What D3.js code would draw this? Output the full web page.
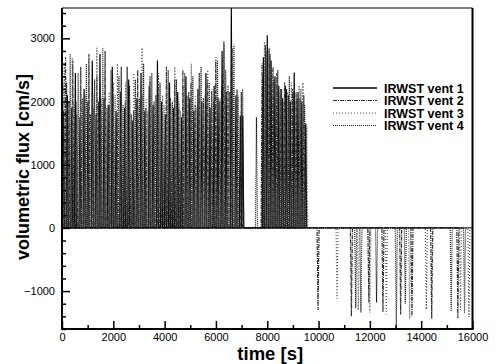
<!DOCTYPE html>
<html><head><meta charset="utf-8">
<script src="https://cdn.jsdelivr.net/npm/d3@7"></script>
<style>
html,body{margin:0;padding:0;background:#fff;}
svg{display:block;}
</style></head>
<body><svg id="chart" width="496" height="364"></svg>
<script>
// ---- data ----
const seriesNames = ["IRWST vent 1", "IRWST vent 2", "IRWST vent 3", "IRWST vent 4"];
const xTickValues = [0, 2000, 4000, 6000, 8000, 10000, 12000, 14000, 16000];
const yTickValues = [-1000, 0, 1000, 2000, 3000];
const xDomain = [0, 16000];
const yDomain = [-1600, 3480];

// spikes: [time s, peak flux cm/s]
const vent1 = [[60,1850],[210,2100],[380,1900],[520,2450],[700,1750],[860,2200],[1010,2000],[1180,2650],[1330,1800],[1480,2750],[1640,2050],[1800,1950],[1960,2550],[2110,1850],[2290,2150],[2440,1900],[2600,2350],[2760,1700],[2920,2050],[3080,2450],[3230,1850],[3400,2250],[3550,1950],[3720,2650],[3880,2000],[4030,1800],[4190,2300],[4350,1900],[4510,2150],[4660,1750],[4830,2400],[4980,2050],[5140,1850],[5300,2200],[5450,2000],[5610,2450],[5770,1900],[5930,2250],[6080,2050],[6240,2800],[6400,2150],[6600,3480],[6780,2100],[6950,1780],[7045,1780],
  [7850,2700],[8000,3050],[8150,2650],[8300,2400],[8450,2250],[8600,2050],[8750,2200],[8900,2000],[9050,2460],[9200,2150],[9350,2000],[9500,1650]];
const vent2 = [[15,2700],[140,2700],[270,2000],[420,2650],[570,1800],[730,2550],[890,2100],[1050,2750],[1210,1900],[1360,2400],[1520,2050],[1680,2800],[1840,1950],[1990,2300],[2150,1800],[2310,2550],[2470,2000],[2630,2250],[2790,1850],[2950,2500],[3110,2100],[3270,1900],[3430,2400],[3590,2000],[3750,2200],[3910,1850],[4070,2550],[4230,2050],[4390,2350],[4550,1900],[4710,2500],[4870,2100],[5030,2300],[5190,1950],[5350,2450],[5510,2050],[5670,2350],[5830,2150],[5990,2650],[6150,2000],[6310,2950],[6470,2250],[6630,2850],[6820,2200],[6990,2150],
  [7800,2600],[7925,2900],[8075,2850],[8225,2550],[8375,2450],[8525,2200],[8675,2300],[8825,2100],[8975,2200],[9125,2150],[9275,2050],[9425,2100],
  [9980,-1300],[11280,-1400],[11960,-1180],[12510,-1330],[13200,-1370],[13640,-1400],[14410,-1440],[15430,-1430]];
const vent3 = [[90,2600],[240,1900],[400,2700],[560,2000],[720,2500],[880,1850],[1040,2650],[1200,2100],[1360,2850],[1520,1800],[1680,2450],[1840,2150],[2000,2050],[2160,2600],[2320,1850],[2480,2300],[2640,2000],[2800,2450],[2960,1900],[3120,2850],[3280,2050],[3440,2350],[3600,1800],[3760,2450],[3920,2100],[4080,2300],[4240,1900],[4400,2550],[4560,2000],[4720,2250],[4880,1850],[5040,2600],[5200,2100],[5360,2300],[5520,1950],[5680,2500],[5840,2200],[6000,2700],[6160,2050],[6320,2900],[6480,2200],[6640,2400],[6820,1950],
  [7890,2950],[8040,2800],[8190,2500],[8340,2300],[8490,2150],[8640,2000],[8790,2150],[8940,2300],[9090,2000],[9240,2250],[9390,2300],[9540,1620],
  [10720,-1120],[11550,-1300],[12000,-1340],[12640,-1370],[13550,-1440],[14200,-1290],[15530,-1300],[15860,-1410]];
const vent4 = [[30,2300],[180,2300],[320,2750],[480,1950],[630,2450],[790,2050],[950,2600],[1110,1800],[1270,2350],[1430,2000],[1590,2850],[1750,1900],[1910,2500],[2070,2100],[2220,2400],[2380,1950],[2540,2550],[2700,1800],[2860,2350],[3020,2050],[3180,2600],[3340,1850],[3500,2450],[3660,2100],[3820,2300],[3980,1950],[4140,2500],[4300,2000],[4460,2350],[4620,1850],[4780,2450],[4940,2150],[5100,2400],[5260,1900],[5420,2550],[5580,2100],[5740,2300],[5900,2000],[6060,2650],[6220,2250],[6380,2500],[6540,2150],[6700,2900],[6860,2100],[7040,2200],
  [7580,1750],[7820,2400],[7960,2800],[8110,2750],[8260,2350],[8410,2500],[8560,2200],[8710,2250],[8860,2400],[9010,2150],[9160,2050],[9310,2200],[9460,1950],
  [11450,-1270],[11650,-1340],[12260,-1180],[13030,-1600],[13380,-1200],[15170,-1320],[15690,-1350]];

const allSeries = [vent1, vent2, vent3, vent4];
const seriesStyles = [
  {stroke:"#000", dash:null},
  {stroke:"#333", dash:"4,1,1,1"},
  {stroke:"#555", dash:"1,2"},
  {stroke:"#222", dash:"1,1"}
];

// ---- layout ----
const svg = d3.select("#chart");
const L = 62, R = 472.5, T = 8, B = 329;
const x = d3.scaleLinear().domain(xDomain).range([L, R]);
const y = d3.scaleLinear().domain(yDomain).range([B, T]);

svg.append("clipPath").attr("id","clip").append("rect")
  .attr("x", L).attr("y", T).attr("width", R - L).attr("height", B - T);

const plot = svg.append("g").attr("clip-path","url(#clip)");
const halfWidth = 40; // seconds, half width of each drawn spike
const line = d3.line().x(d => x(d[0])).y(d => y(d[1]));

allSeries.forEach((s, i) => {
  const pts = [];
  s.forEach(([t, v]) => {
    pts.push([t - halfWidth, 0], [t, v], [t + halfWidth, 0]);
  });
  plot.append("path")
    .attr("d", line(pts))
    .attr("fill","none")
    .attr("stroke", seriesStyles[i].stroke)
    .attr("stroke-width", 1.2)
    .attr("stroke-dasharray", seriesStyles[i].dash);
});

// zero line
svg.append("line").attr("x1", L).attr("x2", R).attr("y1", y(0)).attr("y2", y(0))
  .attr("stroke","#000").attr("stroke-width",1);

// axes
const font = "'Liberation Sans', Arial, Helvetica, sans-serif";
const gx = svg.append("g").attr("transform", `translate(0,${B})`)
  .call(d3.axisBottom(x).tickValues(xTickValues).tickSize(-8).tickPadding(4).tickFormat(d3.format("d")));
const gxm = svg.append("g").attr("transform", `translate(0,${B})`)
  .call(d3.axisBottom(x).tickValues(d3.range(1000, 16000, 2000)).tickSize(-4).tickFormat(""));
const gy = svg.append("g").attr("transform", `translate(${L},0)`)
  .call(d3.axisLeft(y).tickValues(yTickValues).tickSize(-8).tickPadding(7).tickFormat(d3.format("d")));
const gym = svg.append("g").attr("transform", `translate(${L},0)`)
  .call(d3.axisLeft(y).tickValues(d3.range(-1600, 3480, 200).filter(v => v % 1000 !== 0)).tickSize(-4).tickFormat(""));

[gx, gxm, gy, gym].forEach(g => {
  g.select(".domain").remove();
  g.selectAll(".tick line").attr("stroke","#000").attr("stroke-width",1.5);
  g.selectAll("text").attr("font-family", font).attr("font-size", 11).attr("fill","#000");
});

// frame
svg.append("line").attr("x1",L).attr("x2",L).attr("y1",T).attr("y2",B+1).attr("stroke","#000").attr("stroke-width",2);
svg.append("line").attr("x1",L-1).attr("x2",R+1).attr("y1",B).attr("y2",B).attr("stroke","#000").attr("stroke-width",2);
svg.append("line").attr("x1",R).attr("x2",R).attr("y1",T).attr("y2",B).attr("stroke","#000").attr("stroke-width",2);
svg.append("line").attr("x1",L).attr("x2",R).attr("y1",T).attr("y2",T).attr("stroke","#000").attr("stroke-width",1);

// axis titles
svg.append("text").attr("x", (L + R) / 2 + 3).attr("y", 360)
  .attr("text-anchor","middle").attr("font-family", font).attr("font-weight","bold")
  .attr("font-size", 18.5).text("time [s]");
svg.append("text").attr("transform", "translate(29,167) rotate(-90)")
  .attr("text-anchor","middle").attr("font-family", font).attr("font-weight","bold")
  .attr("font-size", 18).text("volumetric flux [cm/s]");

// legend
const legY = [88, 100.5, 113, 125.5];
const leg = svg.append("g");
seriesNames.forEach((n, i) => {
  leg.append("line").attr("x1", 333).attr("x2", 377).attr("y1", legY[i]).attr("y2", legY[i])
    .attr("stroke", seriesStyles[i].stroke).attr("stroke-width", i === 0 ? 1.5 : 1)
    .attr("stroke-dasharray", seriesStyles[i].dash);
  leg.append("text").attr("x", 384).attr("y", legY[i] + 4.5)
    .attr("font-family", font).attr("font-weight","bold").attr("font-size", 12.5)
    .text(n);
});
</script>
</body></html>
